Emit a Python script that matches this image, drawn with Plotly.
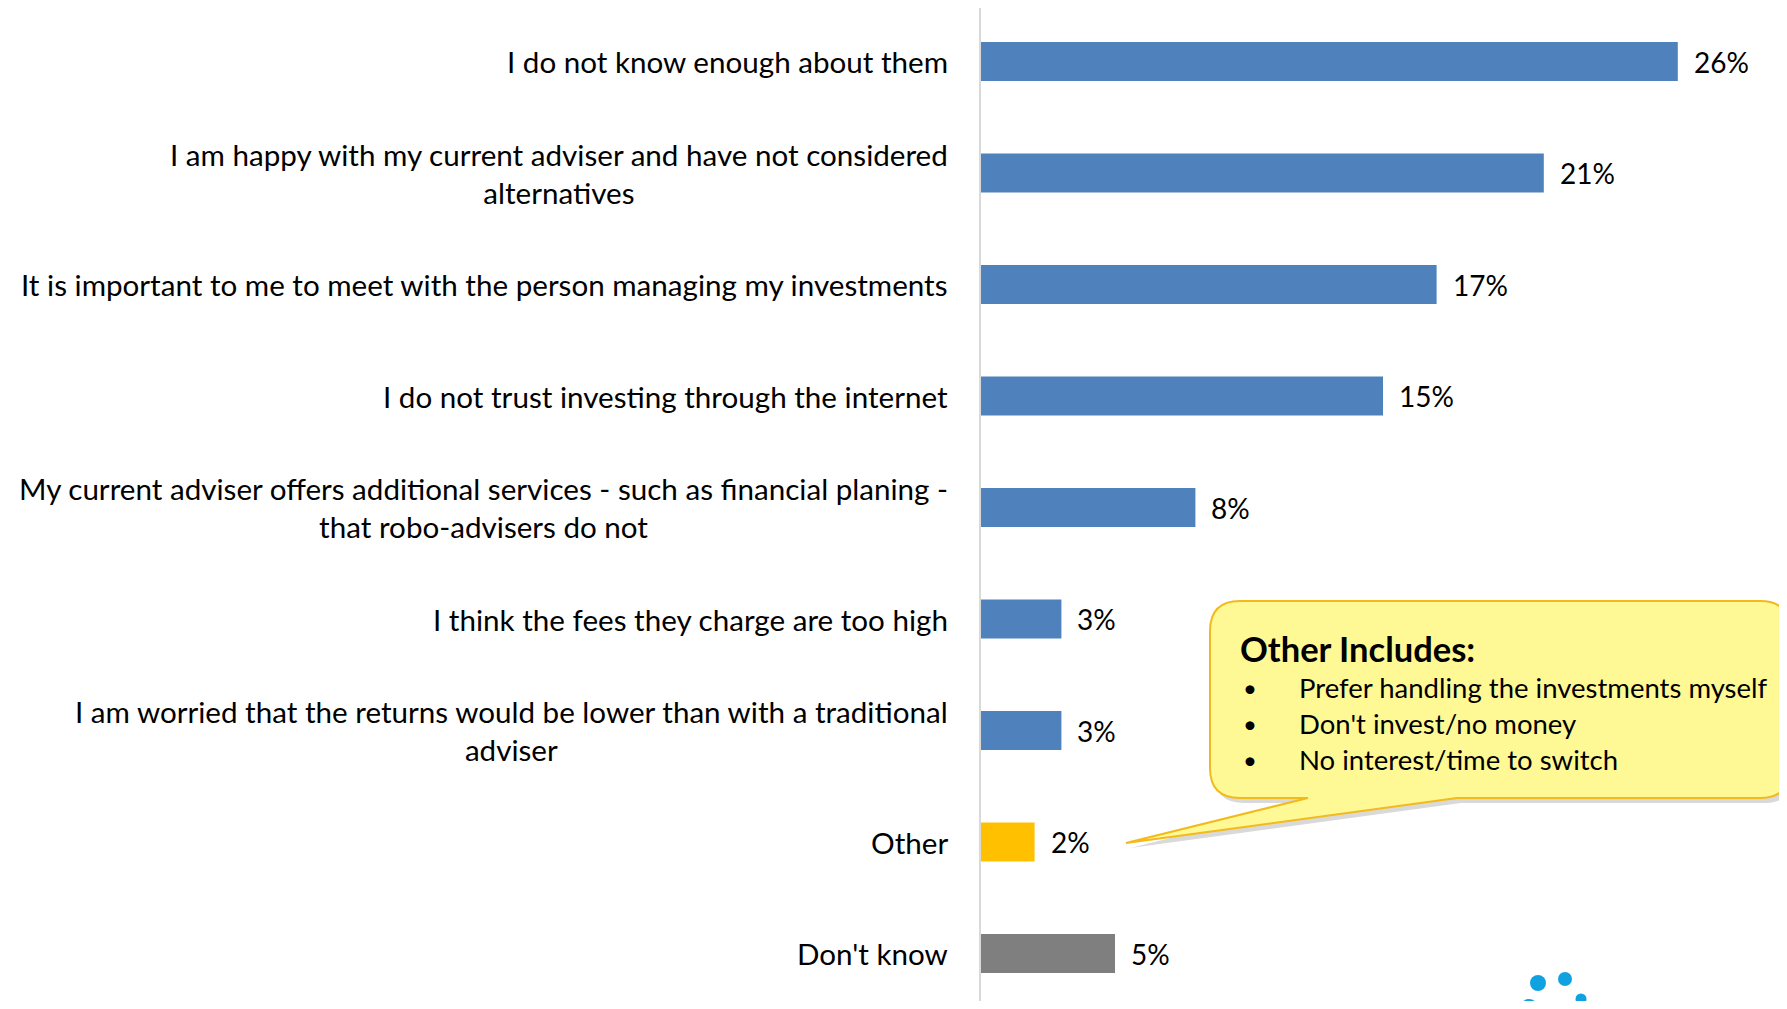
import plotly.graph_objects as go

# Reasons for not using robo-advisers
categories = [
    "I do not know enough about them",
    "I am happy with my current adviser and have not considered<br>alternatives",
    "It is important to me to meet with the person managing my investments",
    "I do not trust investing through the internet",
    "My current adviser offers additional services - such as financial planing -<br>that robo-advisers do not",
    "I think the fees they charge are too high",
    "I am worried that the returns would be lower than with a traditional<br>adviser",
    "Other",
    "Don't know",
]
values = [26, 21, 17, 15, 8, 3, 3, 2, 5]
bar_colors = ["#4F81BD"] * 7 + ["#FFC000", "#7F7F7F"]

other_title = "Other Includes:"
other_items = [
    "Prefer handling the investments myself",
    "Don't invest/no money",
    "No interest/time to switch",
]

# page is offset by the 8px body margin, keep the figure inside the window
OFF = 8
W, H = 1787 - 2 * OFF, 1009 - 2 * OFF
L, R, T, B = 981 - OFF, 0, 0, 0
PX_PER_PCT = 26.8
ROW = 111.5
FONT = "Lato"

plot_w = W - L - R
plot_h = H - T - B
y_top = -(61.5 - OFF - T) / ROW


def px(x, y):
    # page pixel position -> paper coords
    x, y = x - OFF, y - OFF
    return (x - L) / plot_w, (H - B - y) / plot_h


fig = go.Figure(go.Bar(
    x=values,
    y=categories,
    orientation="h",
    width=0.35,
    marker=dict(color=bar_colors, line=dict(width=0)),
    hoverinfo="skip",
))

annotations = []
for cat, val in zip(categories, values):
    annotations.append(dict(
        xref="paper", yref="y", x=0, y=cat, xanchor="right", xshift=-31,
        text=cat, showarrow=False, align="center",
        font=dict(family=FONT, size=29.6, color="#000000"),
    ))
    annotations.append(dict(
        xref="x", yref="y", x=val, y=cat, xanchor="left", xshift=14,
        text=f"{val}%", showarrow=False,
        font=dict(family=FONT, size=28, color="#000000"),
    ))

# callout bubble (page pixels)
bl, bt, br, bb, r = 1210, 601, 1790, 798, 30
tip = (1126, 843)
pts_base = (1308, 1457)


def bubble_path(dx=0, dy=0):
    def p(x, y):
        a, b = px(x + dx, y + dy)
        return f"{a:.5f},{b:.5f}"
    return (
        f"M {p(bl + r, bt)} L {p(br - r, bt)} Q {p(br, bt)} {p(br, bt + r)} "
        f"L {p(br, bb - r)} Q {p(br, bb)} {p(br - r, bb)} "
        f"L {p(pts_base[1], bb)} L {p(*tip)} L {p(pts_base[0], bb)} "
        f"L {p(bl + r, bb)} Q {p(bl, bb)} {p(bl, bb - r)} "
        f"L {p(bl, bt + r)} Q {p(bl, bt)} {p(bl + r, bt)} Z"
    )


shapes = [
    dict(type="path", xref="paper", yref="paper", path=bubble_path(4, 5),
         fillcolor="rgba(0,0,0,0.15)", line=dict(width=0), layer="above"),
    dict(type="path", xref="paper", yref="paper", path=bubble_path(),
         fillcolor="#FFF995", line=dict(color="#F2BA1C", width=2), layer="above"),
]

tx, ty = px(1238, 648)
annotations.append(dict(
    xref="paper", yref="paper", x=tx, y=ty, xanchor="left", yanchor="middle",
    text=f"<b>{other_title}</b>", showarrow=False,
    font=dict(family=FONT, size=34.5, color="#000000"),
))
for i, item in enumerate(other_items):
    yy = 688 + i * 35.5
    bx, by = px(1241, yy)
    ix, iy = px(1297, yy)
    annotations.append(dict(
        xref="paper", yref="paper", x=bx, y=by, xanchor="left", yanchor="middle",
        text="•", showarrow=False, font=dict(family=FONT, size=24, color="#000000"),
    ))
    annotations.append(dict(
        xref="paper", yref="paper", x=ix, y=iy, xanchor="left", yanchor="middle",
        text=item, showarrow=False, font=dict(family=FONT, size=27.5, color="#000000"),
    ))

# logo dots in the corner
for cx, cy, rad in [(1538, 983, 8), (1565, 979, 7), (1581, 999, 5.5), (1529, 1008, 9)]:
    x0, y0 = px(cx - rad, cy + rad)
    x1, y1 = px(cx + rad, cy - rad)
    shapes.append(dict(type="circle", xref="paper", yref="paper",
                       x0=x0, y0=y0, x1=x1, y1=y1,
                       fillcolor="#10A2E0", line=dict(width=0), layer="above"))

fig.update_layout(
    width=W, height=H,
    margin=dict(l=L, r=R, t=T, b=B),
    paper_bgcolor="white",
    plot_bgcolor="white",
    showlegend=False,
    xaxis=dict(range=[0, plot_w / PX_PER_PCT], visible=False,
               showgrid=False, zeroline=False),
    yaxis=dict(range=[y_top + plot_h / ROW, y_top], showticklabels=False,
               ticks="", showgrid=False, zeroline=False,
               showline=True, linecolor="#D9D9D9", linewidth=2),
    annotations=annotations,
    shapes=shapes,
)

fig.write_html("out.html")
